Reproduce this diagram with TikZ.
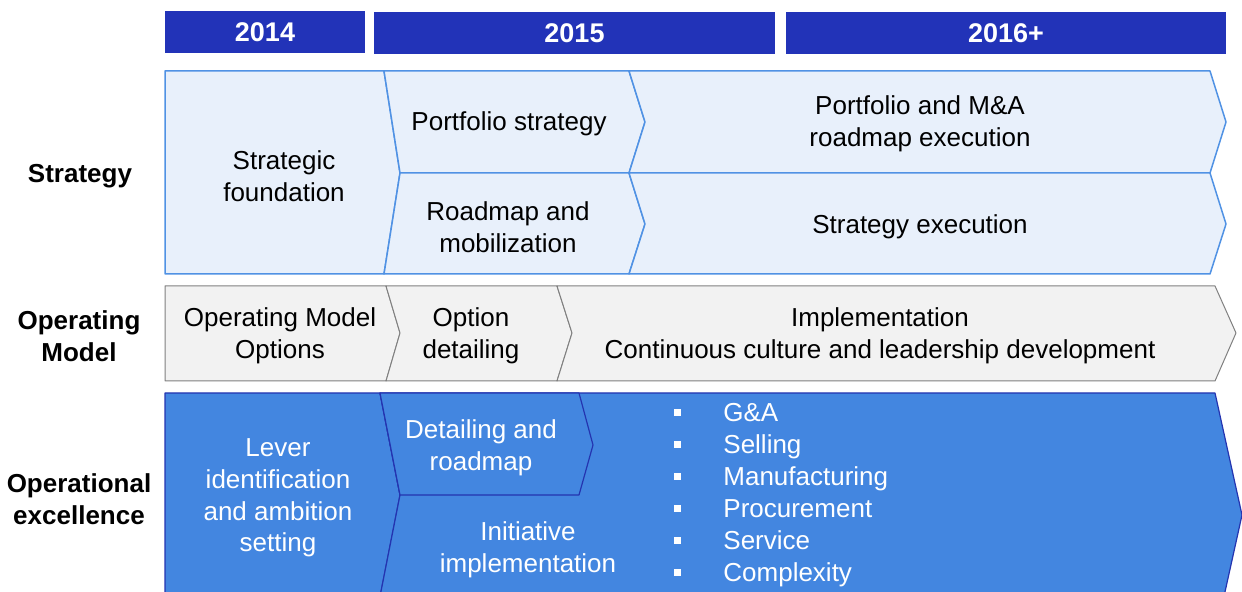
\documentclass[tikz,border=0pt]{standalone}
\usepackage{fontspec}
\setmainfont{Liberation Sans}
\usepackage{tikz}
\usetikzlibrary{calc}

\definecolor{yearblue}{RGB}{34,51,184}
\definecolor{stratfill}{RGB}{232,240,251}
\definecolor{stratline}{RGB}{80,146,228}
\definecolor{opfill}{RGB}{242,242,242}
\definecolor{opline}{RGB}{128,128,128}
\definecolor{exfill}{RGB}{67,134,224}
\definecolor{exline}{RGB}{36,52,176}

\newcommand{\sqbullet}{\makebox[24.5pt][l]{\rule[2.8pt]{3.2pt}{3.2pt}}}

\begin{document}
\begin{tikzpicture}[x=0.5pt, y=-0.5pt,
        year_style/.style={fill=yearblue, text=white, inner sep=0pt, minimum height=21pt,
            font=\fontsize{13.5}{16}\selectfont\bfseries},
        row_label_style/.style={align=center, font=\fontsize{13}{15.8}\selectfont\bfseries},
        text_style/.style={align=center, font=\fontsize{13}{15.8}\selectfont},
        white_text_style/.style={text_style, text=white},
        strat_shape/.style={fill=stratfill, draw=stratline, line width=0.75pt, line join=round},
        op_shape/.style={fill=opfill, draw=opline, line width=0.5pt, line join=round},
        ex_shape/.style={fill=exfill, draw=exline, line width=0.6pt, line join=round}]

        \useasboundingbox (0,0) rectangle (1242,592);
        \clip (0,0) rectangle (1242,592);

        % year headers
        \node [year_style, minimum width=100pt](y14) at (265,32) {2014};
        \node [year_style, minimum width=200.5pt](y15) at (574.5,33) {2015};
        \node [year_style, minimum width=220pt](y16) at (1006,33) {2016+};

        % row labels
        \node [row_label_style](lstrat) at (80,176) {Strategy};
        \node [row_label_style](lop) at (79,336) {Operating\\Model};
        \node [row_label_style](lex) at (79,499) {Operational\\excellence};

        % strategy row
        \filldraw [strat_shape] (165,71) -- (384,71) -- (400,173) -- (384,274) -- (165,274) -- cycle;
        \filldraw [strat_shape] (384,71) -- (629,71) -- (645,122) -- (629,173) -- (400,173) -- cycle;
        \filldraw [strat_shape] (400,173) -- (629,173) -- (645,224) -- (629,274) -- (384,274) -- cycle;
        \filldraw [strat_shape] (629,71) -- (1210,71) -- (1226,122) -- (1210,173) -- (629,173) -- (645,122) -- cycle;
        \filldraw [strat_shape] (629,173) -- (1210,173) -- (1226,224) -- (1210,274) -- (629,274) -- (645,224) -- cycle;

        \node [text_style](s1) at (284,176) {Strategic\\foundation};
        \node [text_style](s2) at (509,124) {Portfolio strategy};
        \node [text_style](s3) at (508,227) {Roadmap and\\mobilization};
        \node [text_style](s4) at (920,124) {Portfolio and M\&A\\roadmap execution};
        \node [text_style](s5) at (920,227) {Strategy execution};

        % operating model row
        \filldraw [op_shape] (165,286) -- (386,286) -- (400,333) -- (386,381) -- (165,381) -- cycle;
        \filldraw [op_shape] (386,286) -- (557,286) -- (572,333) -- (557,381) -- (386,381) -- (400,333) -- cycle;
        \filldraw [op_shape] (557,286) -- (1215,286) -- (1236,333) -- (1215,381) -- (557,381) -- (572,333) -- cycle;

        \node [text_style](o1) at (280,336) {Operating Model\\Options};
        \node [text_style](o2) at (471,336) {Option\\detailing};
        \node [text_style](o3) at (880,336) {Implementation\\Continuous culture and leadership development};

        % operational excellence row
        \filldraw [ex_shape] (165,393) -- (380,393) -- (400,495) -- (380,597) -- (380,640) -- (165,640) -- cycle;
        \filldraw [ex_shape] (380,393) -- (1215,393) -- (1242,515) -- (1215,637) -- (372,637) -- (400,495) -- cycle;
        \filldraw [ex_shape] (380,393) -- (579,393) -- (593,445) -- (579,495) -- (400,495) -- cycle;

        \node [white_text_style](e1) at (278,498) {Lever\\identification\\and ambition\\setting};
        \node [white_text_style](e2) at (481,448) {Detailing and\\roadmap};
        \node [white_text_style](e3) at (528,550) {Initiative\\implementation};
        \node [white_text_style, align=left, anchor=west, inner sep=0pt,
            font=\fontsize{13}{16}\selectfont](e4) at (674,495)
            {\sqbullet G\&A\\\sqbullet Selling\\\sqbullet Manufacturing\\
             \sqbullet Procurement\\\sqbullet Service\\\sqbullet Complexity};

\end{tikzpicture}
\end{document}
